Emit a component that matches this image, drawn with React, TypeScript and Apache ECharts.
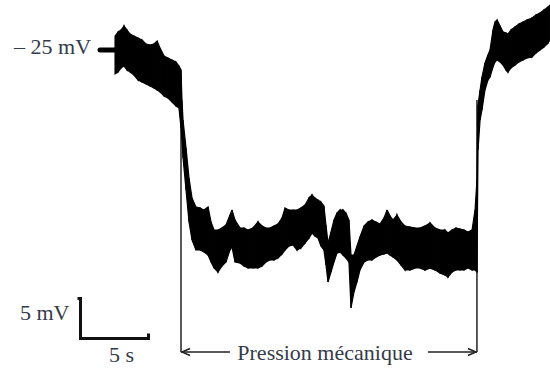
import React, { useEffect, useRef } from "react";
import * as echarts from "echarts";

// Time (s), measured from the start of the mechanical pressure
const TIME = [
  -4.85, -4.63, -4.41, -4.19, -3.97, -3.75, -3.46, -3.16, -2.87, -2.57,
  -2.28, -1.99, -1.76, -1.54, -1.25, -0.96, -0.66, -0.37, -0.15, 0,
  0.07, 0.15, 0.37, 0.59, 0.81, 1.1, 1.4, 1.69, 1.99, 2.21,
  2.43, 2.72, 3.01, 3.31, 3.6, 3.75, 3.97, 4.34, 4.63, 4.93,
  5.29, 5.66, 5.96, 6.25, 6.54, 6.84, 7.13, 7.43, 7.65, 7.94,
  8.24, 8.53, 8.82, 9.12, 9.41, 9.63, 9.85, 10.07, 10.29, 10.51,
  10.66, 10.81, 11.03, 11.25, 11.47, 11.69, 11.91, 12.13, 12.35, 12.5,
  12.72, 12.94, 13.16, 13.46, 13.75, 14.04, 14.34, 14.63, 14.93, 15.15,
  15.37, 15.59, 15.88, 16.18, 16.47, 16.84, 17.21, 17.57, 17.94, 18.31,
  18.68, 19.04, 19.41, 19.63, 19.93, 20.22, 20.51, 20.81, 21.1, 21.4,
  21.62, 21.76, 21.84, 21.99, 22.13, 22.35, 22.57, 22.72, 22.94, 23.09,
  23.24, 23.46, 23.68, 23.9, 24.04, 24.26, 24.56, 24.85, 25.15, 25.44,
  25.81, 26.1, 26.4, 26.69, 26.99, 27.13,
];

// Upper edge of the noisy membrane-potential trace (mV)
const TOP = [
  -23.25, -22.75, -22.5, -22.0, -22.5, -23.0, -23.25, -23.5, -23.75, -24.25,
  -24.38, -24.25, -23.88, -24.75, -25.75, -26.0, -26.25, -26.5, -27.0, -27.5,
  -31.25, -33.75, -37.25, -41.0, -43.5, -44.63, -44.75, -45.0, -44.63, -46.5,
  -47.5, -47.5, -47.25, -46.88, -45.63, -45.0, -46.25, -47.25, -47.25, -47.5,
  -47.25, -46.5, -47.0, -47.25, -47.25, -47.0, -46.75, -46.0, -44.75, -45.0,
  -45.0, -45.0, -44.75, -44.38, -43.5, -43.13, -43.5, -43.75, -44.0, -44.5,
  -46.88, -49.13, -47.75, -46.25, -45.38, -45.0, -45.0, -45.38, -46.25, -50.63,
  -50.63, -49.5, -48.38, -47.0, -46.5, -46.25, -46.5, -46.75, -46.0, -45.0,
  -45.75, -46.25, -45.63, -46.5, -47.0, -47.13, -47.25, -47.25, -47.0, -46.63,
  -47.25, -47.5, -47.5, -47.88, -47.5, -47.25, -47.38, -47.5, -47.75, -47.5,
  -45.0, -41.25, -31.88, -30.0, -28.38, -26.63, -25.63, -25.0, -22.5, -21.5,
  -21.25, -22.0, -22.75, -22.88, -23.0, -22.5, -22.13, -21.75, -21.5, -21.25,
  -21.0, -20.63, -20.38, -20.0, -19.63, -19.38,
];

// Lower edge of the noisy membrane-potential trace (mV)
const BOTTOM = [
  -28.0, -27.75, -27.25, -27.0, -27.5, -27.75, -28.13, -28.75, -29.0, -29.25,
  -29.5, -29.75, -30.0, -30.25, -30.75, -31.0, -31.5, -32.0, -32.25, -34.75,
  -36.25, -38.5, -42.5, -46.5, -48.75, -50.0, -50.0, -50.25, -50.63, -51.5,
  -52.25, -52.75, -52.0, -51.5, -50.0, -49.63, -51.5, -51.63, -52.0, -52.25,
  -52.25, -52.25, -52.0, -51.5, -51.25, -51.25, -51.0, -50.5, -50.0, -49.5,
  -49.38, -50.0, -49.75, -49.13, -48.5, -47.88, -48.25, -48.5, -49.5, -50.0,
  -51.88, -54.0, -52.75, -51.5, -50.38, -50.25, -50.63, -51.0, -51.5, -57.25,
  -55.25, -54.0, -52.5, -51.5, -51.25, -51.25, -50.88, -50.63, -50.5, -50.38,
  -50.63, -50.88, -51.25, -51.88, -52.5, -52.5, -52.25, -52.25, -52.5, -52.25,
  -52.5, -52.88, -53.13, -53.38, -52.75, -52.5, -52.5, -52.5, -52.25, -52.5,
  -52.5, -52.75, -37.5, -33.75, -32.5, -30.0, -28.75, -28.38, -27.13, -26.5,
  -26.25, -26.5, -26.88, -27.5, -27.75, -27.25, -26.88, -26.5, -26.25, -26.0,
  -25.88, -25.38, -25.0, -24.63, -24.13, -23.75,
];

const PRESSURE_START = 0; // s
const PRESSURE_END = 21.76; // s
const REF_LEVEL = -25; // mV
const REF_LABEL = "– 25 mV";
const SCALE_MV = 5;
const SCALE_S = 5;
const SCALE_LABEL_MV = "5 mV";
const SCALE_LABEL_S = "5 s";
const PRESSURE_LABEL = "Pression mécanique";

const TEXT_COLOR = "#353b48";
const FONT = '22px "Liberation Serif", "DejaVu Serif", serif';

export default function App() {
  const ref = useRef<HTMLDivElement>(null);

  useEffect(() => {
    document.body.style.margin = "0";
    const chart = echarts.init(ref.current as HTMLDivElement, null, { renderer: "svg" });

    const data = TIME.map((t, i) => [t, TOP[i], BOTTOM[i]]);

    chart.setOption({
      animation: false,
      grid: { left: 0, right: 0, top: 0, bottom: 0 },
      xAxis: { type: "value", min: -13.309, max: 27.132, show: false },
      yAxis: { type: "value", min: -64.75, max: -18.75, show: false },
      series: [
        {
          type: "custom",
          silent: true,
          clip: false,
          data,
          encode: { x: 0, y: [1, 2] },
          renderItem: (params: any, api: any) => {
            const i = params.dataIndex;
            if (i >= TIME.length - 1) return null;
            const a = api.coord([TIME[i], TOP[i]]);
            const b = api.coord([TIME[i + 1], TOP[i + 1]]);
            const c = api.coord([TIME[i + 1], BOTTOM[i + 1]]);
            const d = api.coord([TIME[i], BOTTOM[i]]);
            return {
              type: "polygon",
              shape: { points: [a, b, c, d] },
              style: { fill: "#000", stroke: "#000", lineWidth: 1.2 },
            };
          },
        },
      ],
    });

    const px = (t: number, v: number) =>
      chart.convertToPixel({ gridIndex: 0 }, [t, v]) as number[];

    // stimulus bracket
    const arrowV = -62.75;
    const lineTopV = -31.25;
    const s0 = px(PRESSURE_START, lineTopV);
    const s1 = px(PRESSURE_START, arrowV);
    const e0 = px(PRESSURE_END, lineTopV);
    const e1 = px(PRESSURE_END, arrowV);
    const ay = s1[1];
    const midX = (s1[0] + e1[0]) / 2 - 4;

    // reference level
    const refY = px(TIME[0], REF_LEVEL)[1];
    const refX = px(TIME[0], REF_LEVEL)[0];

    // scale bar
    const corner = px(-7.39, -61.06);
    const top = px(-7.39, -61.06 + SCALE_MV);
    const right = px(-7.39 + SCALE_S, -61.06);

    const lineStyle = { stroke: "#222", lineWidth: 1.5 };

    chart.setOption({
      graphic: [
        { type: "line", shape: { x1: s0[0], y1: s0[1], x2: s1[0], y2: s1[1] }, style: lineStyle },
        { type: "line", shape: { x1: e0[0], y1: e0[1], x2: e1[0], y2: e1[1] }, style: lineStyle },
        { type: "line", shape: { x1: s1[0], y1: ay, x2: s1[0] + 49, y2: ay }, style: lineStyle },
        { type: "line", shape: { x1: e1[0] - 49, y1: ay, x2: e1[0], y2: ay }, style: lineStyle },
        {
          type: "polyline",
          shape: { points: [[s1[0] + 9, ay - 3.5], [s1[0] + 1, ay], [s1[0] + 9, ay + 3.5]] },
          style: { ...lineStyle, fill: null },
        },
        {
          type: "polyline",
          shape: { points: [[e1[0] - 9, ay - 3.5], [e1[0] - 1, ay], [e1[0] - 9, ay + 3.5]] },
          style: { ...lineStyle, fill: null },
        },
        {
          type: "text",
          x: midX,
          y: ay,
          style: {
            text: PRESSURE_LABEL,
            font: FONT,
            fill: TEXT_COLOR,
            textAlign: "center",
            textVerticalAlign: "middle",
            align: "center",
            verticalAlign: "middle",
          },
        },
        // reference level tick + label
        {
          type: "line",
          shape: { x1: refX - 15, y1: refY, x2: refX + 2, y2: refY },
          style: { stroke: "#000", lineWidth: 5, lineCap: "round" },
        },
        {
          type: "text",
          x: refX - 24,
          y: refY - 4,
          style: {
            text: REF_LABEL,
            font: FONT,
            fill: TEXT_COLOR,
            textAlign: "right",
            textVerticalAlign: "middle",
            align: "right",
            verticalAlign: "middle",
          },
        },
        // scale bar
        {
          type: "polyline",
          shape: {
            points: [
              [top[0] - 3, top[1]],
              [top[0], top[1]],
              [corner[0], corner[1]],
              [right[0], right[1]],
              [right[0], right[1] - 5],
            ],
          },
          style: { stroke: "#111", lineWidth: 3, fill: null, lineJoin: "miter" },
        },
        {
          type: "text",
          x: corner[0] - 11,
          y: (top[1] + corner[1]) / 2 - 6,
          style: {
            text: SCALE_LABEL_MV,
            font: FONT,
            fill: TEXT_COLOR,
            textAlign: "right",
            textVerticalAlign: "middle",
            align: "right",
            verticalAlign: "middle",
          },
        },
        {
          type: "text",
          x: corner[0] + 41,
          y: corner[1] + 16,
          style: {
            text: SCALE_LABEL_S,
            font: FONT,
            fill: TEXT_COLOR,
            textAlign: "center",
            textVerticalAlign: "middle",
            align: "center",
            verticalAlign: "middle",
          },
        },
      ],
    });

    return () => chart.dispose();
  }, []);

  return <div ref={ref} style={{ width: 550, height: 368 }} />;
}
